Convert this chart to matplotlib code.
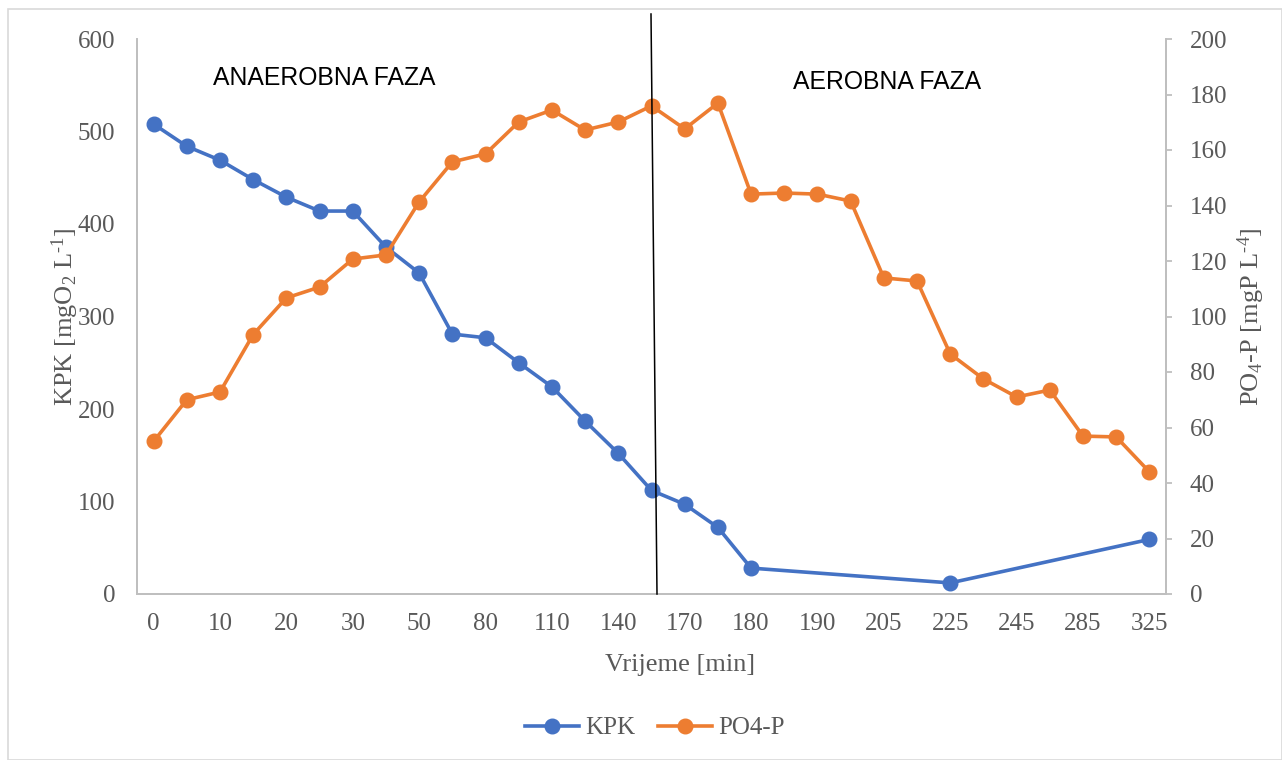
import numpy as np
import matplotlib.pyplot as plt
from matplotlib.lines import Line2D
from matplotlib.patches import Rectangle

# x axis is categorical: 31 sampling points, only every 2nd one is labelled
time_labels = ['0', '10', '20', '30', '50', '80', '110', '140', '170',
               '180', '190', '205', '225', '245', '285', '325']

kpk = [508, 484, 469, 448, 429, 414, 414, 375, 347, 281, 277, 250, 224, 187,
       152, 112, 97, 72, 28, np.nan, np.nan, np.nan, np.nan, np.nan, 12,
       np.nan, np.nan, np.nan, np.nan, np.nan, 59]
po4 = [55, 70, 72.8, 93.5, 106.7, 110.6, 120.7, 122.2, 141.3, 155.7, 158.6,
       170.1, 174.4, 167.2, 170.1, 175.9, 167.6, 176.9, 144.1, 144.5, 144.1,
       141.6, 113.9, 112.8, 86.5, 77.5, 71, 73.5, 56.9, 56.6, 44]

blue = '#4472C4'
orange = '#ED7D31'
grey = '#595959'
serif = 'Liberation Serif'
plt.rcParams['mathtext.fontset'] = 'custom'
plt.rcParams['mathtext.rm'] = serif
plt.rcParams['mathtext.it'] = serif

fig = plt.figure(figsize=(12.82, 7.60), dpi=100)
fig.patches.append(Rectangle((8 / 1282, 0), 1 - 8 / 1282, 1 - 9 / 760,
                             transform=fig.transFigure, fill=False,
                             edgecolor='#d9d9d9', lw=1.2))
ax = fig.add_axes([137 / 1282, 166 / 760, 1029 / 1282, 555 / 760])
ax2 = ax.twinx()

x = np.arange(len(po4))
kpk = np.array(kpk, dtype=float)
ok = ~np.isnan(kpk)
ax.plot(x[ok], kpk[ok], color=blue, lw=2.6, marker='o', ms=10.5, zorder=3)
ax2.plot(x, po4, color=orange, lw=2.6, marker='o', ms=10.5, zorder=3)

ax.set_xlim(-0.5, len(po4) - 0.5)
ax.set_ylim(0, 600)
ax2.set_ylim(0, 200)
ax.set_yticks(range(0, 601, 100))
ax2.set_yticks(range(0, 201, 20))
ax.set_xticks(x[::2])
ax.set_xticklabels(time_labels)

for a in (ax, ax2):
    a.tick_params(length=0, labelsize=18, labelcolor=grey)
    for lab in a.get_xticklabels() + a.get_yticklabels():
        lab.set_family(serif)
    for s in a.spines.values():
        s.set_color('#bfbfbf')
        s.set_linewidth(1.3)
    a.spines['top'].set_visible(False)
ax.tick_params(axis='x', pad=14)
ax.tick_params(axis='y', pad=15.5)
ax2.tick_params(axis='y', length=4.5, width=1.3, color='#bfbfbf', direction='out', pad=12.5)

ax.set_xlabel('Vrijeme [min]', fontsize=19, color=grey, family=serif, labelpad=13)
ax.xaxis.label.set_x((680 - 137) / 1029)
ax.set_ylabel(r'KPK [mgO$_2$ L$^{\text{-1}}$]', fontsize=19, color=grey, family=serif, labelpad=-2)
ax2.set_ylabel(r'PO$_4$-P [mgP L$^{\text{-4}}$]', fontsize=19, color=grey, family=serif, labelpad=6)

fig.text(213 / 1282, 1 - 78 / 760, 'ANAEROBNA FAZA', fontsize=17.8,
         family='Liberation Sans', va='center', ha='left')
fig.text(793 / 1282, 1 - 82 / 760, 'AEROBNA FAZA', fontsize=17.8,
         family='Liberation Sans', va='center', ha='left')

# phase boundary line drawn over the chart
fig.add_artist(Line2D([651 / 1282, 657 / 1282], [1 - 14 / 760, 1 - 594 / 760],
                      color='black', lw=1.1, transform=fig.transFigure))

handles = [Line2D([], [], color=blue, lw=2.6, marker='o', ms=10.5),
           Line2D([], [], color=orange, lw=2.6, marker='o', ms=10.5)]
fig.legend(handles, ['KPK', 'PO4-P'], loc='center', bbox_to_anchor=(655 / 1282, 1 - 728 / 760),
           ncol=2, frameon=False, prop={'family': serif, 'size': 18},
           labelcolor=grey, handlelength=2.15, columnspacing=0.9, handletextpad=0.25)

fig.savefig('out.png', dpi=100)
